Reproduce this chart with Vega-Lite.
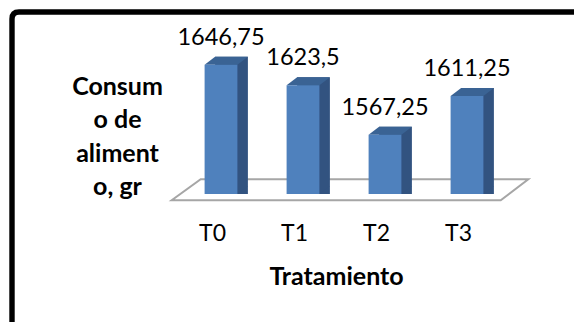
{
  "$schema": "https://vega.github.io/schema/vega-lite/v6.json",
  "width": 328,
  "height": 176,
  "autosize": "none",
  "padding": {"left": 180, "top": 18, "right": 66, "bottom": 128},
  "background": "white",
  "config": {
    "view": {"stroke": null},
    "font": "Lato",
    "locale": {"number": {"decimal": ",", "thousands": ".", "grouping": [3], "currency": ["", ""]}}
  },
  "data": {
    "values": [
      {"tratamiento": "T0", "consumo": 1646.75},
      {"tratamiento": "T1", "consumo": 1623.5},
      {"tratamiento": "T2", "consumo": 1567.25},
      {"tratamiento": "T3", "consumo": 1611.25}
    ]
  },
  "encoding": {
    "x": {
      "field": "tratamiento",
      "type": "nominal",
      "scale": {"paddingInner": 0.6, "paddingOuter": 0.3},
      "axis": {
        "title": "Tratamiento",
        "titleFont": "Lato",
        "titleFontSize": 25,
        "titleFontWeight": "bold",
        "titleColor": "black",
        "titleAlign": "center",
        "titleX": 156,
        "titleY": 82,
        "titleBaseline": "middle",
        "labelFont": "Lato",
        "labelFontSize": 23,
        "labelColor": "black",
        "labelAngle": 0,
        "labelPadding": 28,
        "labelOffset": -8.5,
        "domain": false,
        "ticks": false
      }
    },
    "y": {
      "field": "consumo",
      "type": "quantitative",
      "stack": null,
      "scale": {"domain": [1500, 1700], "nice": false, "zero": false},
      "axis": {
        "title": ["Consum", "o de", "aliment", "o, gr"],
        "titleFont": "Lato",
        "titleFontSize": 25,
        "titleFontWeight": "bold",
        "titleColor": "black",
        "titleAngle": 0,
        "titleAlign": "center",
        "titleBaseline": "top",
        "titleLineHeight": 33.5,
        "titleX": -63,
        "titleY": 56,
        "labels": false,
        "domain": false,
        "ticks": false,
        "grid": false
      }
    }
  },
  "layer": [
    {
      "description": "Outer frame: only the top and left edges fall inside the window",
      "transform": [{"filter": "datum.tratamiento === 'T0'"}],
      "mark": {
        "type": "point",
        "shape": "M-209 140 L-209 -175 Q-209 -182 -202 -182 L400 -182",
        "size": 4,
        "filled": false,
        "stroke": "black",
        "strokeWidth": 5.4,
        "opacity": 1
      },
      "encoding": {"y": {"datum": 1500}}
    },
    {
      "description": "Chart floor",
      "transform": [{"filter": "datum.tratamiento === 'T0'"}],
      "mark": {
        "type": "point",
        "shape": "M-49.3 6.3 L279.7 6.3 L307.3 -14.7 L-20.3 -14.7 Z",
        "size": 4,
        "filled": false,
        "stroke": "#a6a6a6",
        "strokeWidth": 2,
        "opacity": 1
      },
      "encoding": {"y": {"datum": 1500}}
    },
    {
      "description": "Back of each column, seen as its dark side face",
      "mark": {"type": "bar", "color": "#325380", "xOffset": 10.5, "x2Offset": 10.5, "yOffset": -8, "y2Offset": -8}
    },
    {
      "description": "Lower corner of the side face",
      "mark": {
        "type": "point",
        "shape": "M16.4 0 L26.9 -8 L16.4 -8 Z",
        "size": 4,
        "filled": true,
        "fill": "#325380",
        "stroke": null,
        "opacity": 1
      },
      "encoding": {"y": {"datum": 1500}}
    },
    {
      "description": "Top face of each column",
      "mark": {
        "type": "point",
        "shape": "M-16.4 0 L16.4 0 L26.9 -8 L-5.9 -8 Z",
        "size": 4,
        "filled": true,
        "fill": "#3a6394",
        "stroke": null,
        "opacity": 1
      }
    },
    {
      "description": "Front face of each column",
      "mark": {"type": "bar", "color": "#4f81bd"}
    },
    {
      "description": "Value labels with a decimal comma",
      "mark": {
        "type": "text",
        "font": "Lato",
        "fontSize": 23.5,
        "color": "black",
        "baseline": "middle",
        "dy": -27
      },
      "encoding": {"text": {"field": "consumo", "type": "quantitative", "format": ".2~f"}}
    }
  ]
}
